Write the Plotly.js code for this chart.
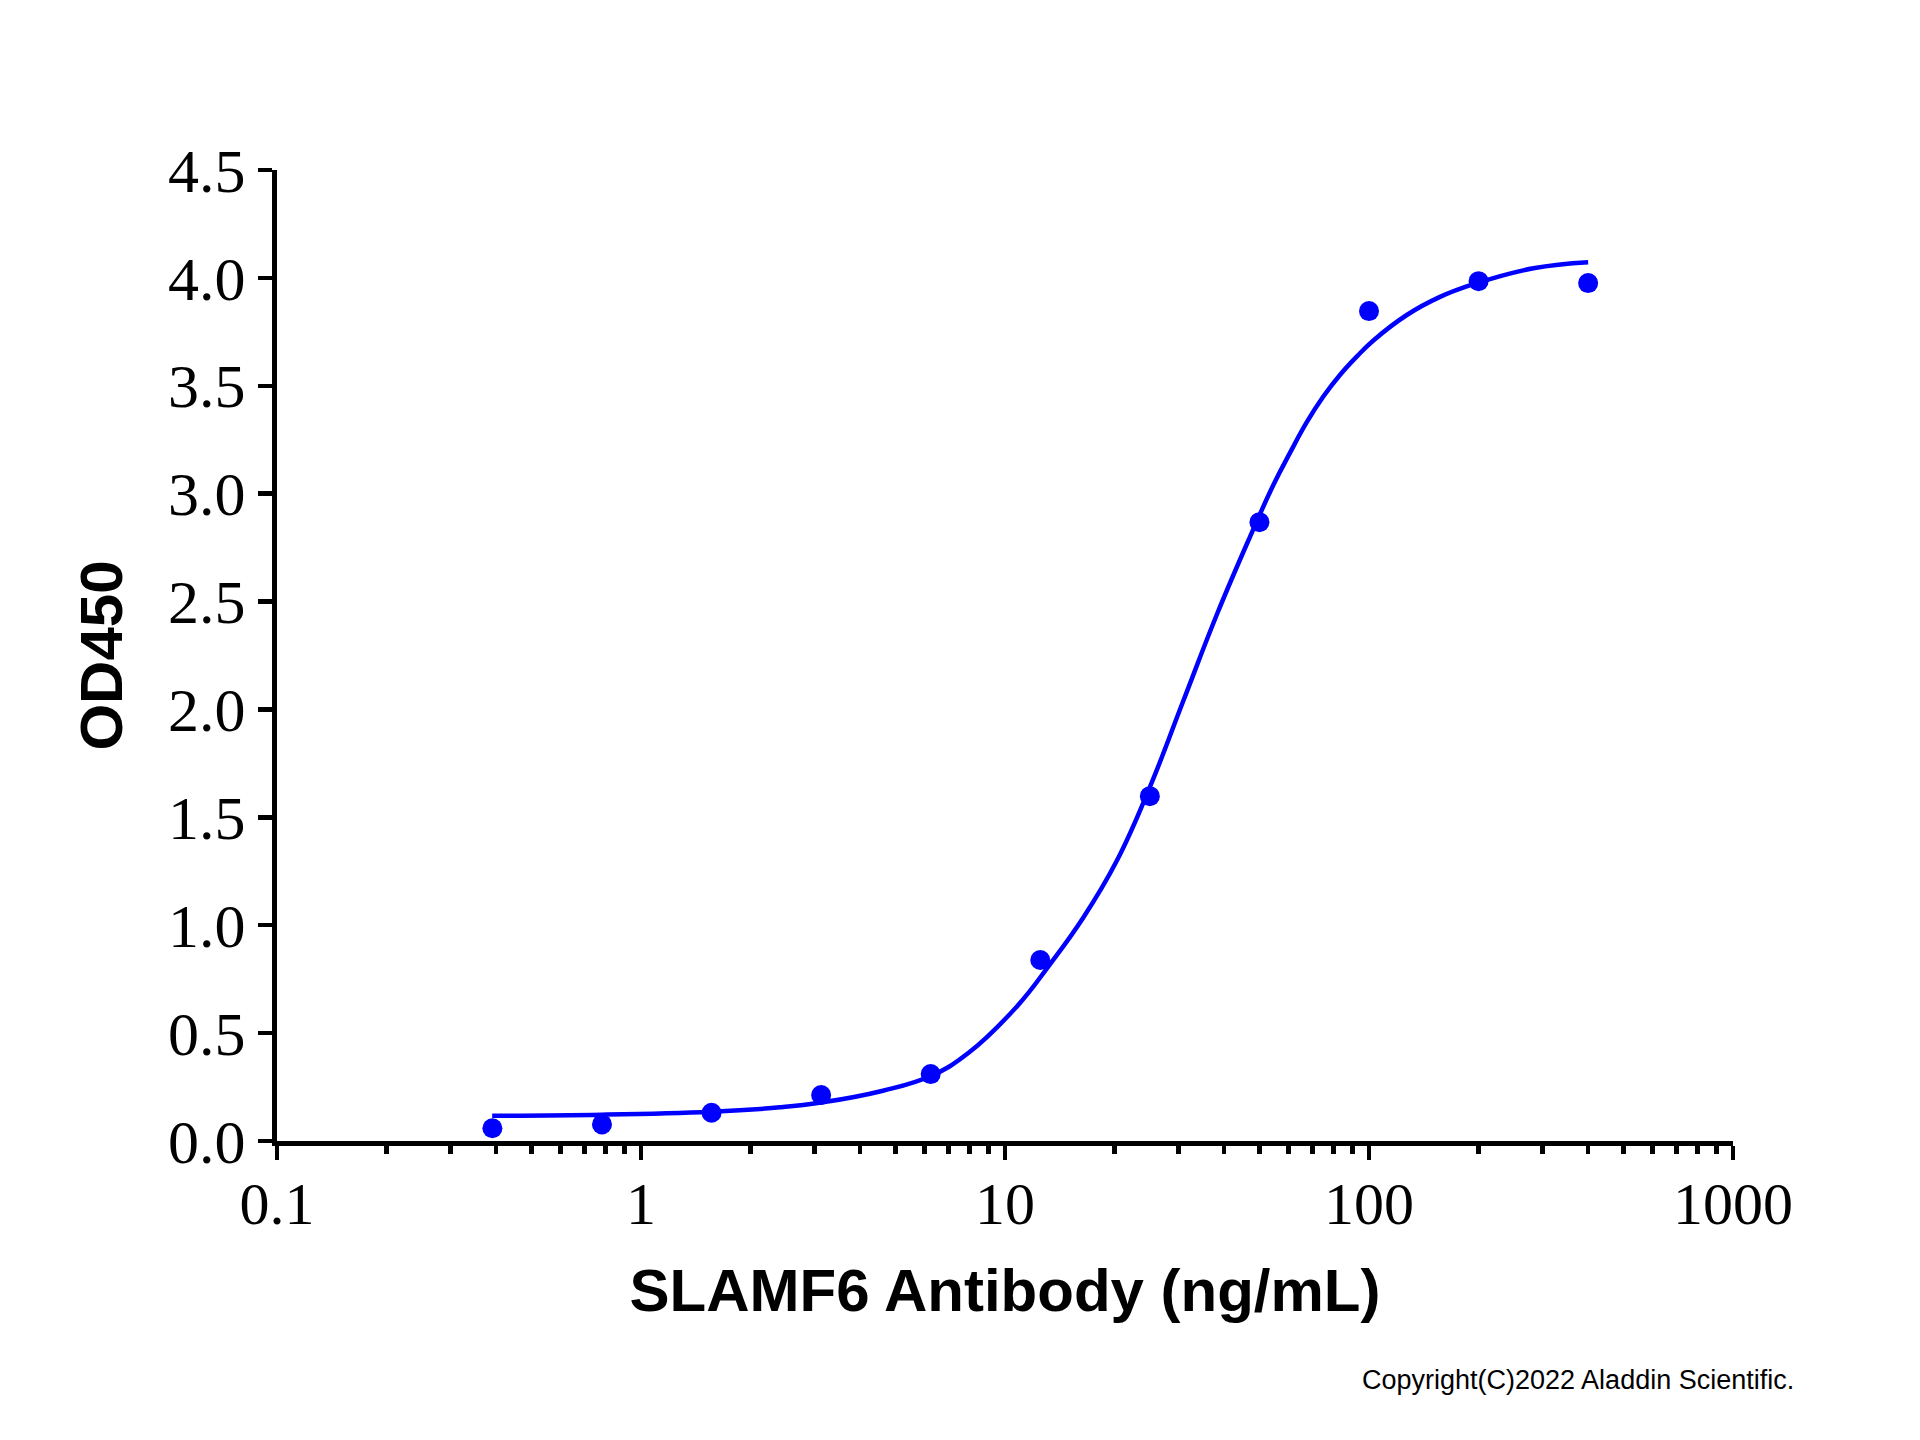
<!DOCTYPE html>
<html>
<head>
<meta charset="utf-8">
<script src="https://cdn.plot.ly/plotly-3.0.1.min.js"></script>
<style>
  html, body { margin: 0; padding: 0; background: #fff; }
  #chart { width: 1920px; height: 1440px; }
</style>
</head>
<body>
<div id="chart"></div>
<script>
// measured points (ng/mL vs OD450)
const concentrations = [0.390625, 0.78125, 1.5625, 3.125, 6.25, 12.5, 25, 50, 100, 200, 400]
const od450 = [0.059, 0.077, 0.131, 0.213, 0.31, 0.839, 1.598, 2.868, 3.846, 3.985, 3.976]

// fitted curve
const fitX = [0.39, 0.78, 1.56, 2.41, 3.125, 4.62, 6.25, 7.96, 10.8, 13.3, 16.4, 20.3, 25.0, 30.9,
  38.2, 47.1, 54.6, 60.7, 67.4, 74.9, 83.2, 92.5, 102.8, 127, 156.7, 193.7, 283, 400]
const fitY = [0.117, 0.122, 0.136, 0.156, 0.178, 0.233, 0.301, 0.41, 0.625, 0.82, 1.035, 1.30, 1.64, 2.04,
  2.44, 2.80, 3.04, 3.19, 3.33, 3.45, 3.55, 3.635, 3.71, 3.828, 3.912, 3.971, 4.045, 4.073]

const xTicks = [0.1, 1, 10, 100, 1000]
const xTickText = ['0.1', '1', '10', '100', '1000']
const yTicks = [0, 0.5, 1, 1.5, 2, 2.5, 3, 3.5, 4, 4.5]

const blue = '#0000ff'
const serif = 'Liberation Serif, Times New Roman, serif'
const sans = 'Liberation Sans, Arial, sans-serif'

const traces = [
  {
    x: fitX,
    y: fitY,
    mode: 'lines',
    type: 'scatter',
    line: { color: blue, width: 4.5, shape: 'spline', smoothing: 1.2 },
    hoverinfo: 'none'
  },
  {
    x: concentrations,
    y: od450,
    mode: 'markers',
    type: 'scatter',
    marker: { color: blue, size: 20 },
    hoverinfo: 'none'
  }
]

const layout = {
  width: 1920,
  height: 1440,
  showlegend: false,
  paper_bgcolor: '#fff',
  plot_bgcolor: '#fff',
  margin: { l: 277, r: 187, t: 170, b: 299 },
  xaxis: {
    type: 'log',
    range: [-1, 3],
    tickvals: xTicks,
    ticktext: xTickText,
    ticks: 'outside',
    ticklen: 14,
    tickwidth: 4.5,
    tickcolor: '#000',
    ticklabelstandoff: -8,
    showline: true,
    linewidth: 5,
    linecolor: '#000',
    showgrid: false,
    zeroline: false,
    tickfont: { family: serif, size: 60, color: '#000' },
    minor: { ticks: 'outside', ticklen: 8, tickwidth: 4.5, tickcolor: '#000', dtick: 'D1', showgrid: false },
    title: {
      text: '<b>SLAMF6 Antibody (ng/mL)</b>',
      font: { family: sans, size: 60, color: '#000' },
      standoff: 34
    }
  },
  yaxis: {
    range: [0, 4.5],
    tickvals: yTicks,
    tickformat: '.1f',
    ticks: 'outside',
    ticklen: 14,
    tickwidth: 4.5,
    tickcolor: '#000',
    showline: true,
    linewidth: 5,
    linecolor: '#000',
    showgrid: false,
    zeroline: false,
    tickfont: { family: serif, size: 62, color: '#000' },
    title: {
      text: '<b>OD450</b>',
      font: { family: sans, size: 60, color: '#000' },
      standoff: 28
    }
  },
  annotations: [
    {
      text: 'Copyright(C)2022 Aladdin Scientific.',
      xref: 'paper', yref: 'paper',
      x: 1.0436, y: -0.246,
      xanchor: 'right', yanchor: 'middle',
      showarrow: false,
      font: { family: sans, size: 27, color: '#000' }
    }
  ]
}

Plotly.newPlot('chart', traces, layout, { staticPlot: true })
</script>
</body>
</html>
